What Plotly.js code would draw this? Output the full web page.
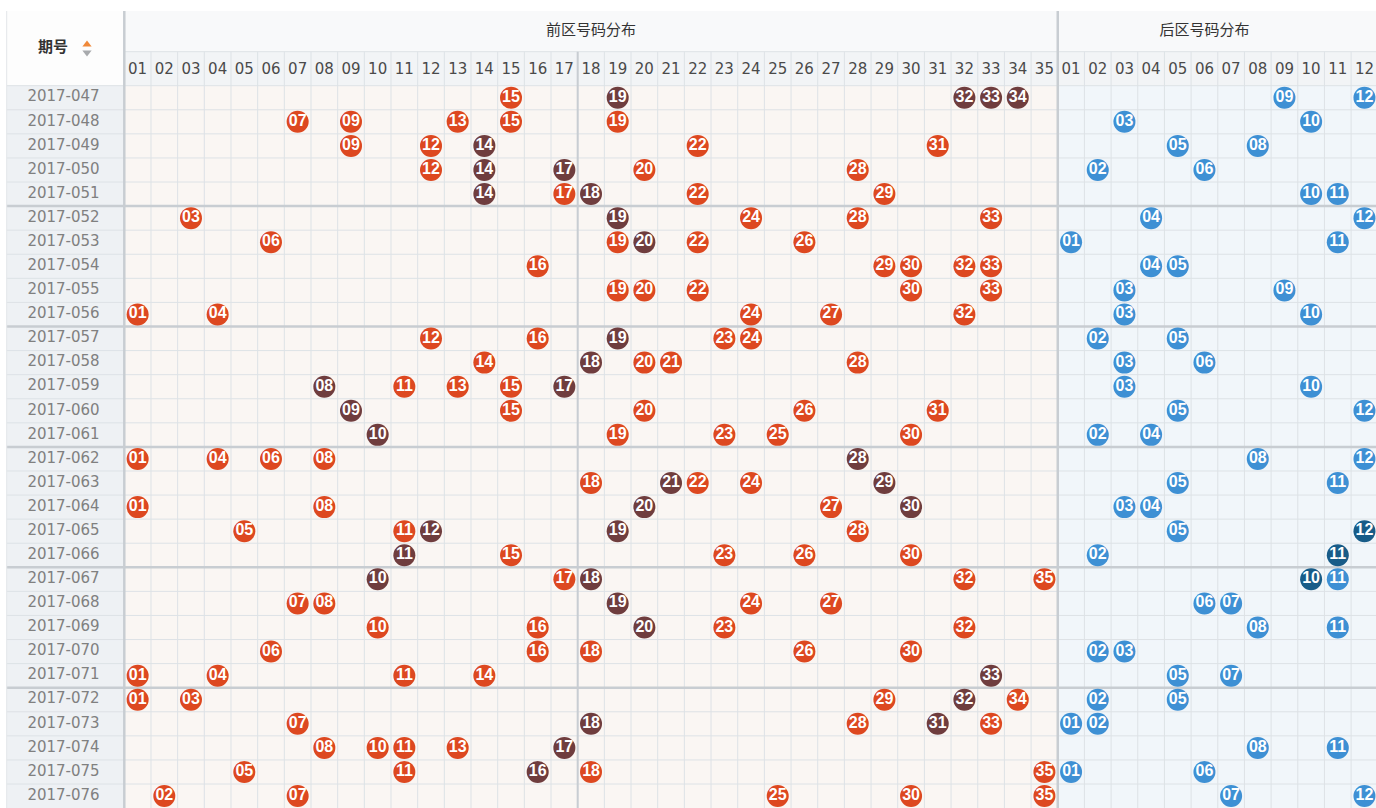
<!DOCTYPE html>
<html>
<head>
<meta charset="utf-8">
<script src="https://cdn.plot.ly/plotly-3.0.1.min.js"></script>
<style>
html,body{margin:0;padding:0;background:#fff;}
#chart{width:1376px;height:808px;}
</style>
</head>
<body>
<div id="chart"></div>
<script>
// ---------- DATA ----------
const periods = ['2017-047','2017-048','2017-049','2017-050','2017-051','2017-052','2017-053','2017-054','2017-055','2017-056',
  '2017-057','2017-058','2017-059','2017-060','2017-061','2017-062','2017-063','2017-064','2017-065','2017-066',
  '2017-067','2017-068','2017-069','2017-070','2017-071','2017-072','2017-073','2017-074','2017-075','2017-076'];

const frontLabels = ['01','02','03','04','05','06','07','08','09','10','11','12','13','14','15','16','17','18','19','20',
  '21','22','23','24','25','26','27','28','29','30','31','32','33','34','35'];
const backLabels = ['01','02','03','04','05','06','07','08','09','10','11','12'];

const frontNums = [
  [15,19,32,33,34],[7,9,13,15,19],[9,12,14,22,31],[12,14,17,20,28],[14,17,18,22,29],
  [3,19,24,28,33],[6,19,20,22,26],[16,29,30,32,33],[19,20,22,30,33],[1,4,24,27,32],
  [12,16,19,23,24],[14,18,20,21,28],[8,11,13,15,17],[9,15,20,26,31],[10,19,23,25,30],
  [1,4,6,8,28],[18,21,22,24,29],[1,8,20,27,30],[5,11,12,19,28],[11,15,23,26,30],
  [10,17,18,32,35],[7,8,19,24,27],[10,16,20,23,32],[6,16,18,26,30],[1,4,11,14,33],
  [1,3,29,32,34],[7,18,28,31,33],[8,10,11,13,17],[5,11,16,18,35],[2,7,25,30,35]
];
const frontDark = [
  [19,32,33,34],[],[14],[14,17],[14,18],
  [19],[20],[],[],[],
  [19],[18],[8,17],[9],[10],
  [28],[21,29],[20,30],[12,19],[11],
  [10,18],[19],[20],[],[33],
  [32],[18,31],[17],[16],[]
];
const backNums = [
  [9,12],[3,10],[5,8],[2,6],[10,11],
  [4,12],[1,11],[4,5],[3,9],[3,10],
  [2,5],[3,6],[3,10],[5,12],[2,4],
  [8,12],[5,11],[3,4],[5,12],[2,11],
  [10,11],[6,7],[8,11],[2,3],[5,7],
  [2,5],[1,2],[8,11],[1,6],[7,12]
];
const backDark = [
  [],[],[],[],[],
  [],[],[],[],[],
  [],[],[],[],[],
  [],[],[],[12],[11],
  [10],[],[],[],[],
  [],[],[],[],[]
];

// ---------- GEOMETRY ----------
const W = 1376, H = 808;
const COLW = 26.67, ROWH = 24.08;
const X0PX = 124.3, Y0PX = 85.7;
const NF = frontLabels.length, NB = backLabels.length, NR = periods.length;
const xr = [-X0PX / COLW, (W - X0PX) / COLW];
const yr = [(H - Y0PX) / ROWH, -Y0PX / ROWH];
const HDR_TOP = (11 - Y0PX) / ROWH;
const HDR_MID = (51.7 - Y0PX) / ROWH;
const TBL_LEFT = (6.7 - X0PX) / COLW;
const XEND = NF + NB;

const C = {
  red:'#dd4820', dark:'#6f3d3e', blue:'#3e90d4', dblue:'#185c88',
  frontBg:'#faf6f3', backBg:'#f1f6fa', grid:'#dde2e6', sep:'#c8cdd2',
  periodBg:'#eef1f4', hdr1:'#f8f9fa', hdr2:'#f2f4f6'
};

const shapes = [];
function rect(x0,x1,y0,y1,fill){shapes.push({type:'rect',layer:'below',x0,x1,y0,y1,fillcolor:fill,line:{width:0}});}
function line(x0,y0,x1,y1,color,w){shapes.push({type:'line',layer:'below',x0,y0,x1,y1,line:{color,width:w}});}

// backgrounds
rect(TBL_LEFT,0,HDR_TOP,0,'#fdfdfd');
rect(0,XEND,HDR_TOP,HDR_MID,C.hdr1);
rect(0,XEND,HDR_MID,0,C.hdr2);
rect(TBL_LEFT,0,0,NR,C.periodBg);
rect(0,NF,0,NR,C.frontBg);
rect(NF,XEND,0,NR,C.backBg);

// grid
for(let c=1;c<XEND;c++){ line(c,HDR_MID,c,NR,C.grid,1); }
for(let r=1;r<NR;r++){ line(TBL_LEFT,r,XEND,r,C.grid,1); }
line(0,HDR_MID,XEND,HDR_MID,C.grid,1);
line(0,0,XEND,0,C.grid,1);
line(TBL_LEFT,0,0,0,C.grid,1);
// separators every 5 rows
for(let r=5;r<NR;r+=5){ line(TBL_LEFT,r,XEND,r,C.sep,2.5); }
line(17,HDR_MID,17,NR,C.sep,2);
line(NF,HDR_TOP,NF,NR,C.sep,2.5);
line(0,HDR_TOP,0,NR,C.sep,2.5);
line(TBL_LEFT,HDR_TOP,TBL_LEFT,NR,'#e3e6e9',1);

// ---------- TRACES ----------
const traces = [];
// header labels
traces.push({
  type:'scatter', mode:'text', hoverinfo:'skip', showlegend:false,
  x: frontLabels.map((_,i)=>i+0.5).concat(backLabels.map((_,i)=>NF+i+0.5)),
  y: frontLabels.concat(backLabels).map(()=>-0.64),
  text: frontLabels.concat(backLabels),
  textfont:{family:'DejaVu Sans', size:15, color:'#4a4a4a'}
});
// zone titles
traces.push({
  type:'scatter', mode:'text', hoverinfo:'skip', showlegend:false,
  x:[NF/2, NF+NB/2 - 0.5], y:[(HDR_TOP+HDR_MID)/2,(HDR_TOP+HDR_MID)/2],
  text:['前区号码分布','后区号码分布'],
  textfont:{family:'Noto Sans CJK SC', size:15, color:'#333'}
});
// period header
traces.push({
  type:'scatter', mode:'text', hoverinfo:'skip', showlegend:false,
  x:[(53-X0PX)/COLW], y:[(48-Y0PX)/ROWH], text:['期号'],
  textfont:{family:'Noto Sans CJK SC', size:15, color:'#333', weight:'bold'}
});
traces.push({
  type:'scatter', mode:'markers', hoverinfo:'skip', showlegend:false,
  x:[(87-X0PX)/COLW,(87-X0PX)/COLW], y:[(44.5-Y0PX)/ROWH,(52.5-Y0PX)/ROWH],
  marker:{symbol:['triangle-up','triangle-down'], size:8, color:['#f0893a','#a8aaad'], line:{width:0}}
});
// period labels
traces.push({
  type:'scatter', mode:'text', hoverinfo:'skip', showlegend:false,
  x: periods.map(()=> (63.5-X0PX)/COLW), y: periods.map((_,i)=>i+0.5),
  text: periods,
  textfont:{family:'DejaVu Sans', size:15, color:'#808080'}
});

// balls
const bx=[], by=[], bt=[], bc=[];
frontNums.forEach((row,i)=>{
  row.forEach(n=>{
    bx.push(n-0.5); by.push(i+0.5); bt.push(frontLabels[n-1]);
    bc.push(frontDark[i].includes(n)?C.dark:C.red);
  });
});
backNums.forEach((row,i)=>{
  row.forEach(n=>{
    bx.push(NF+n-0.5); by.push(i+0.5); bt.push(backLabels[n-1]);
    bc.push(backDark[i].includes(n)?C.dblue:C.blue);
  });
});
traces.push({
  type:'scatter', mode:'markers+text', hoverinfo:'skip', showlegend:false,
  x:bx, y:by, text:bt, textposition:'middle center',
  marker:{size:22, color:bc, line:{width:0}},
  textfont:{family:'Liberation Sans', size:16, color:'#ffffff', weight:'bold'},
  cliponaxis:false
});

const layout = {
  width:W, height:H,
  margin:{l:0,r:0,t:0,b:0,pad:0},
  paper_bgcolor:'#ffffff', plot_bgcolor:'#ffffff',
  xaxis:{range:xr, visible:false, fixedrange:true},
  yaxis:{range:yr, visible:false, fixedrange:true},
  shapes:shapes,
  showlegend:false
};
Plotly.newPlot('chart', traces, layout, {staticPlot:true, displayModeBar:false});
</script>
</body>
</html>
